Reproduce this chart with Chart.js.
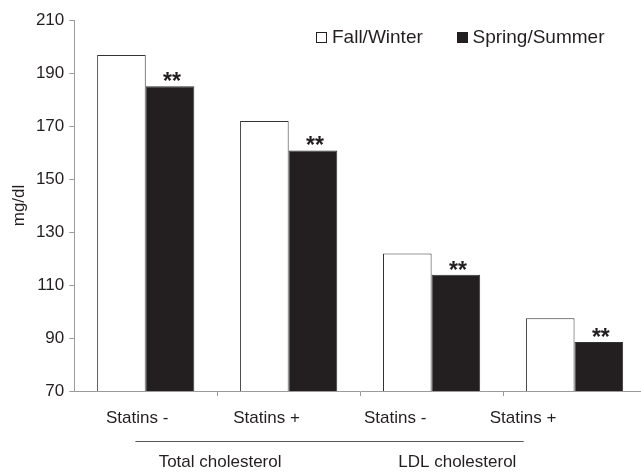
<!DOCTYPE html>
<html>
<head>
<meta charset="utf-8">
<script src="https://cdn.jsdelivr.net/npm/chart.js@4/dist/chart.umd.min.js"></script>
<style>
  html, body { margin: 0; padding: 0; background: #fff; overflow: hidden; }
  #wrap { width: 648px; height: 472px; position: relative; }
</style>
</head>
<body>
<div id="wrap"><canvas id="c"></canvas></div>
<script>
// Serum cholesterol by season, with and without statin therapy
const categories = ['Statins -', 'Statins +', 'Statins -', 'Statins +'];
const groupNames = ['Total cholesterol', 'LDL cholesterol'];
const fallWinter = [196.8, 171.9, 121.9, 97.5];
const springSummer = [185.0, 160.8, 113.9, 88.5];
const significance = ['**', '**', '**', '**'];
const seriesNames = ['Fall/Winter', 'Spring/Summer'];
const yMin = 70, yMax = 210, yStep = 20;

const INK = '#231f20';
const AXIS = '#9b9b9b';
const FONT = '"Liberation Sans", Arial, Helvetica, sans-serif';

// Where the category captions sit along the x scale (in category units)
const captionAt = [-0.06, 0.845, 1.745, 2.64];
const groupAt = [0.52, 2.18];
const bracketFrom = -0.072, bracketTo = 2.644;

const annotations = {
  id: 'annotations',
  afterDatasetsDraw(chart) {
    const ctx = chart.ctx;
    const meta = chart.getDatasetMeta(1);
    ctx.save();
    ctx.fillStyle = INK;
    ctx.font = 'bold 23px ' + FONT;
    ctx.textAlign = 'center';
    ctx.textBaseline = 'alphabetic';
    meta.data.forEach((bar, i) => {
      ctx.fillText(significance[i], bar.x + 2, bar.y + 3);
    });
    ctx.restore();
  },
  afterDraw(chart) {
    const ctx = chart.ctx;
    const x = chart.scales.x;
    const bottom = chart.chartArea.bottom;
    ctx.save();
    ctx.fillStyle = INK;
    ctx.font = '17px ' + FONT;
    ctx.textAlign = 'center';
    ctx.textBaseline = 'middle';
    categories.forEach((c, i) => {
      ctx.fillText(c, x.getPixelForValue(captionAt[i]), bottom + 27);
    });
    // bracket line beneath the category captions
    ctx.strokeStyle = '#555';
    ctx.lineWidth = 1;
    ctx.beginPath();
    const yl = Math.round(bottom + 50) + 0.5;
    ctx.moveTo(x.getPixelForValue(bracketFrom), yl);
    ctx.lineTo(x.getPixelForValue(bracketTo), yl);
    ctx.stroke();
    groupNames.forEach((g, i) => {
      ctx.fillText(g, x.getPixelForValue(groupAt[i]), bottom + 71);
    });

    // legend
    ctx.font = '19px ' + FONT;
    ctx.textAlign = 'left';
    ctx.textBaseline = 'alphabetic';
    const items = [
      { bx: 316, tx: 332, ds: chart.data.datasets[0] },
      { bx: 457, tx: 472.5, ds: chart.data.datasets[1] }
    ];
    items.forEach(it => {
      ctx.fillStyle = it.ds.backgroundColor;
      ctx.fillRect(it.bx, 32, 11, 11);
      ctx.strokeStyle = INK;
      ctx.lineWidth = 1;
      ctx.strokeRect(it.bx + 0.5, 32.5, 10, 10);
      ctx.fillStyle = INK;
      ctx.fillText(it.ds.label, it.tx, 43.3);
    });
    ctx.restore();
  }
};

new Chart(document.getElementById('c'), {
  type: 'bar',
  data: {
    labels: categories,
    datasets: [
      {
        label: seriesNames[0],
        data: fallWinter,
        backgroundColor: '#ffffff',
        borderColor: '#333333',
        borderWidth: 1
      },
      {
        label: seriesNames[1],
        data: springSummer,
        backgroundColor: INK,
        borderColor: '#333333',
        borderWidth: 1
      }
    ]
  },
  options: {
    responsive: true,
    maintainAspectRatio: false,
    animation: false,
    devicePixelRatio: 1,
    layout: { padding: { top: 20, right: 2, bottom: 76, left: 3.3 } },
    datasets: { bar: { barPercentage: 1, categoryPercentage: 0.68 } },
    plugins: { legend: { display: false }, tooltip: { enabled: false } },
    scales: {
      x: {
        offset: true,
        ticks: { display: false },
        grid: {
          offset: true,
          drawOnChartArea: false,
          drawTicks: true,
          tickLength: 5,
          color: (c) => (c.index === 0 ? 'rgba(0,0,0,0)' : AXIS)
        },
        border: { display: true, color: AXIS, width: 1 }
      },
      y: {
        min: yMin,
        max: yMax,
        ticks: {
          stepSize: yStep,
          color: INK,
          padding: 5,
          font: { family: FONT, size: 17 }
        },
        grid: {
          drawOnChartArea: false,
          drawTicks: true,
          tickLength: 5,
          color: AXIS
        },
        border: { display: true, color: AXIS, width: 1 },
        title: {
          display: true,
          text: 'mg/dl',
          color: INK,
          font: { family: FONT, size: 17 },
          padding: { top: 6, bottom: 1.2 }
        }
      }
    }
  },
  plugins: [annotations]
});
</script>
</body>
</html>
